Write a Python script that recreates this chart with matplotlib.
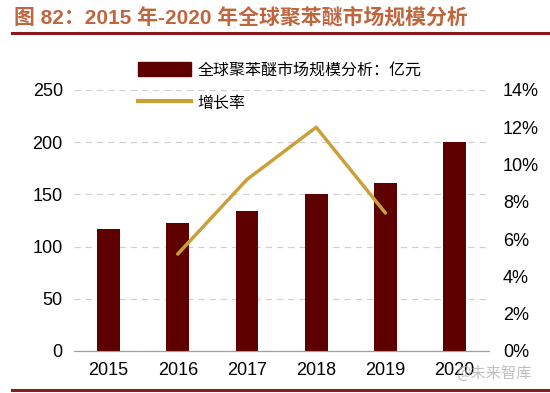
import matplotlib.pyplot as plt
import matplotlib.lines as mlines
import matplotlib.patches as mpatches

plt.rcParams['font.family'] = ['Liberation Sans', 'Noto Sans CJK SC', 'DejaVu Sans']

# data
years = ["2015", "2016", "2017", "2018", "2019", "2020"]
market_size = [117, 123, 134, 150, 161, 200]          # 亿元
growth_years = ["2016", "2017", "2018", "2019"]
growth_rate = [5.2, 9.2, 12.0, 7.4]                   # %

bar_color = "#5E0000"
line_color = "#C9A03A"

fig = plt.figure(figsize=(5.5, 3.93), dpi=100)
ax = fig.add_axes([0.1345, 0.107, 0.755, 0.664])
ax2 = ax.twinx()

x = list(range(len(years)))
ax.bar(x, market_size, width=0.33, color=bar_color, zorder=3)
gx = [years.index(y) for y in growth_years]
ax2.plot(gx, growth_rate, color=line_color, linewidth=2.5, solid_capstyle="round", zorder=4)

ax.set_xlim(-0.5, len(years) - 0.5)
ax.set_ylim(0, 250)
ax.set_yticks(range(0, 251, 50))
ax2.set_ylim(0, 14)
ax2.set_yticks(range(0, 15, 2))
ax2.set_yticklabels([f"{v}%" for v in range(0, 15, 2)])

ax.set_xticks(x)
ax.set_xticklabels(years)
ax.yaxis.grid(True, linestyle=(0, (5, 4)), color="#D0D0D0", linewidth=0.9)
ax.set_axisbelow(True)

for a in (ax, ax2):
    for s in ("top", "left", "right"):
        a.spines[s].set_visible(False)
    a.spines["bottom"].set_color("#A0A0A0")
    a.tick_params(length=0, labelsize=13, colors="black")
ax.tick_params(axis="x", pad=8)
ax.tick_params(axis="y", pad=8)
ax2.tick_params(axis="y", pad=10)
ax2.set_zorder(ax.get_zorder() + 1)
ax2.patch.set_visible(False)

# legend
h1 = mpatches.Patch(color=bar_color)
h2 = mlines.Line2D([], [], color=line_color, linewidth=3)
fig.legend([h1, h2], ["全球聚苯醚市场规模分析：亿元", "增长率"],
           loc="upper left", bbox_to_anchor=(0.225, 0.88), frameon=False,
           prop={"family": "Noto Sans CJK SC", "size": 11.5},
           handlelength=3.3, handleheight=0.9, labelspacing=1.0, handletextpad=0.4)

# title and rules
fig.text(0.025, 0.955, "图 82：2015 年-2020 年全球聚苯醚市场规模分析", color="#C0663F",
         fontsize=15, fontweight="bold", va="center",
         family=["Liberation Sans", "Noto Sans CJK SC"])
fig.add_artist(mlines.Line2D([0.022, 1.0], [0.915, 0.915], color="#8B1A1A", linewidth=2.2))
fig.add_artist(mlines.Line2D([0.022, 1.0], [0.008, 0.008], color="#8B1A1A", linewidth=2.2))
fig.text(0.83, 0.05, "@未来智库", color="#B0B0B0", fontsize=11, va="center",
         family=["Noto Sans CJK SC"], alpha=0.8)

fig.savefig("out.png", dpi=100)
